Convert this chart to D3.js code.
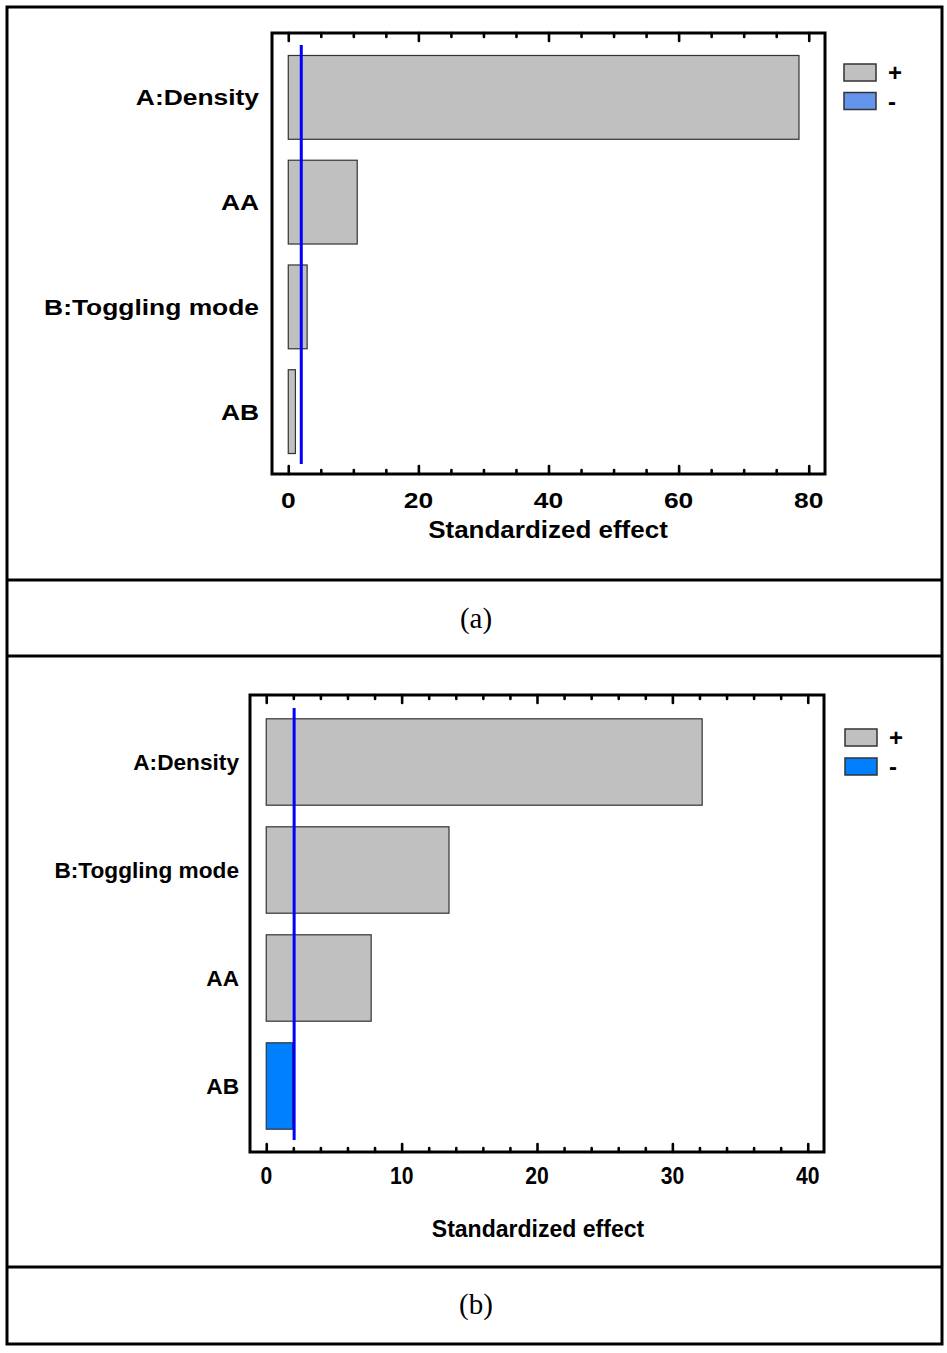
<!DOCTYPE html>
<html><head><meta charset="utf-8">
<script src="https://cdn.jsdelivr.net/npm/d3@7"></script>
<style>body{margin:0;background:#fff} svg{display:block}</style>
</head><body>
<script>
// ---- data ----
const categoriesA = ["A:Density", "AA", "B:Toggling mode", "AB"];
const effectsA = [78.5, 10.6, 2.9, 1.1];
const criticalA = 2.0;
const majorTicksA = [0, 20, 40, 60, 80];
const minorTicksA = [5, 10, 15, 25, 30, 35, 45, 50, 55, 65, 70, 75];

const categoriesB = ["A:Density", "B:Toggling mode", "AA", "AB"];
const effectsB = [32.2, 13.5, 7.75, -1.95];
const criticalB = 2.06;
const majorTicksB = [0, 10, 20, 30, 40];
const minorTicksB = [2, 4, 6, 8, 12, 14, 16, 18, 22, 24, 26, 28, 32, 34, 36, 38];

const legendLabels = ["+", "-"];
const axisTitle = "Standardized effect";
const captions = ["(a)", "(b)"];

// ---- drawing ----
const W = 947, H = 1353;
const svg = d3.select("body").append("svg").attr("width", W).attr("height", H);
const FONT = "'Liberation Sans', Arial, Helvetica, sans-serif";

function drawChart(cfg) {
  const g = svg.append("g");
  const x = d3.scaleLinear().domain(cfg.domain).range([cfg.left, cfg.right]);
  const y = d3.scaleBand().domain(cfg.cats).range(cfg.band).paddingInner(0.2).paddingOuter(0.1);

  // bars
  g.selectAll("rect.bar").data(cfg.cats.map((c, i) => ({c, v: cfg.vals[i]})))
    .enter().append("rect")
    .attr("x", x(0))
    .attr("y", d => y(d.c))
    .attr("width", d => x(Math.abs(d.v)) - x(0))
    .attr("height", y.bandwidth())
    .attr("fill", d => d.v >= 0 ? "#c0c0c0" : cfg.negColor)
    .attr("stroke", "#333").attr("stroke-width", 1.2);

  // critical line
  g.append("line")
    .attr("x1", x(cfg.crit)).attr("x2", x(cfg.crit))
    .attr("y1", cfg.band[0]).attr("y2", cfg.band[1])
    .attr("stroke", "#0000ff").attr("stroke-width", 3);

  // ticks (inward, top and bottom)
  function ticks(axisFn, vals, size, ty) {
    const ax = axisFn(x).tickValues(vals).tickSize(-size).tickFormat("");
    const a = g.append("g").attr("transform", `translate(0,${ty})`).call(ax);
    a.select(".domain").remove();
    a.selectAll("line").attr("stroke", "#000").attr("stroke-width", 2.6).attr("stroke-linecap", "round");
  }
  ticks(d3.axisBottom, cfg.major, 8, cfg.bottom);
  ticks(d3.axisBottom, cfg.minor, 4, cfg.bottom);
  ticks(d3.axisTop, cfg.major, 8, cfg.top);
  ticks(d3.axisTop, cfg.minor, 4, cfg.top);

  // frame
  g.append("rect").attr("x", cfg.left).attr("y", cfg.top)
    .attr("width", cfg.right - cfg.left).attr("height", cfg.bottom - cfg.top)
    .attr("fill", "none").attr("stroke", "#000").attr("stroke-width", 3);

  // tick labels
  g.selectAll("text.tl").data(cfg.major).enter().append("text")
    .attr("transform", d => `translate(${x(d)},${cfg.tickBase}) scale(${cfg.tickSx},1)`)
    .attr("text-anchor", "middle")
    .attr("font-family", FONT).attr("font-weight", "bold")
    .attr("font-size", cfg.tickFs)
    .text(d => d);

  // axis title
  g.append("text")
    .attr("transform", `translate(${cfg.titleX},${cfg.titleBase}) scale(${cfg.titleSx},1)`)
    .attr("text-anchor", "middle")
    .attr("font-family", FONT).attr("font-weight", "bold")
    .attr("font-size", cfg.titleFs)
    .text(axisTitle);

  // category labels
  g.selectAll("text.cl").data(cfg.cats).enter().append("text")
    .attr("transform", d => `translate(${cfg.catX},${y(d) + y.bandwidth() / 2}) scale(${cfg.catSx},1)`)
    .attr("text-anchor", "end").attr("dy", "0.36em")
    .attr("font-family", FONT).attr("font-weight", "bold")
    .attr("font-size", cfg.catFs)
    .text(d => d);

  // legend
  const lg = g.append("g");
  legendLabels.forEach((lab, i) => {
    const yy = cfg.legY + i * cfg.legStep;
    lg.append("rect").attr("x", cfg.legX).attr("y", yy).attr("width", 32).attr("height", 17)
      .attr("fill", i === 0 ? "#c0c0c0" : cfg.negColor)
      .attr("stroke", "#333").attr("stroke-width", 1.5);
    lg.append("text").attr("x", cfg.legX + 44).attr("y", yy + 8.5).attr("dy", "0.36em")
      .attr("font-family", FONT).attr("font-weight", "bold").attr("font-size", 24)
      .text(lab);
  });
}

drawChart({
  cats: categoriesA, vals: effectsA, crit: criticalA,
  major: majorTicksA, minor: minorTicksA,
  domain: [-2.5, 82.5], left: 272, right: 825, top: 33, bottom: 474,
  band: [45, 464], negColor: "#6495ed",
  tickBase: 508, tickFs: 22, tickSx: 1.2,
  titleX: 548, titleBase: 538, titleFs: 23, titleSx: 1.13,
  catX: 259, catFs: 22, catSx: 1.2,
  legX: 844, legY: 64, legStep: 28.5
});

drawChart({
  cats: categoriesB, vals: effectsB, crit: criticalB,
  major: majorTicksB, minor: minorTicksB,
  domain: [-1.2, 41.2], left: 250, right: 824, top: 695, bottom: 1152,
  band: [708, 1140], negColor: "#0080ff",
  tickBase: 1184, tickFs: 24, tickSx: 0.88,
  titleX: 538, titleBase: 1237, titleFs: 24, titleSx: 0.96,
  catX: 239, catFs: 22, catSx: 1.03,
  legX: 845, legY: 729, legStep: 29
});

// page frame & caption rows
const frame = svg.append("g").attr("fill", "none").attr("stroke", "#000").attr("stroke-width", 3);
frame.append("rect").attr("x", 7).attr("y", 7).attr("width", 935).attr("height", 1337);
[580, 656, 1267].forEach(yy => frame.append("line").attr("x1", 7).attr("x2", 942).attr("y1", yy).attr("y2", yy));

const capY = [628, 1314];
captions.forEach((c, i) => {
  svg.append("text").attr("x", 476).attr("y", capY[i])
    .attr("text-anchor", "middle")
    .attr("font-family", "'Liberation Serif', 'Times New Roman', serif")
    .attr("font-size", 29)
    .text(c);
});
</script>
</body></html>
